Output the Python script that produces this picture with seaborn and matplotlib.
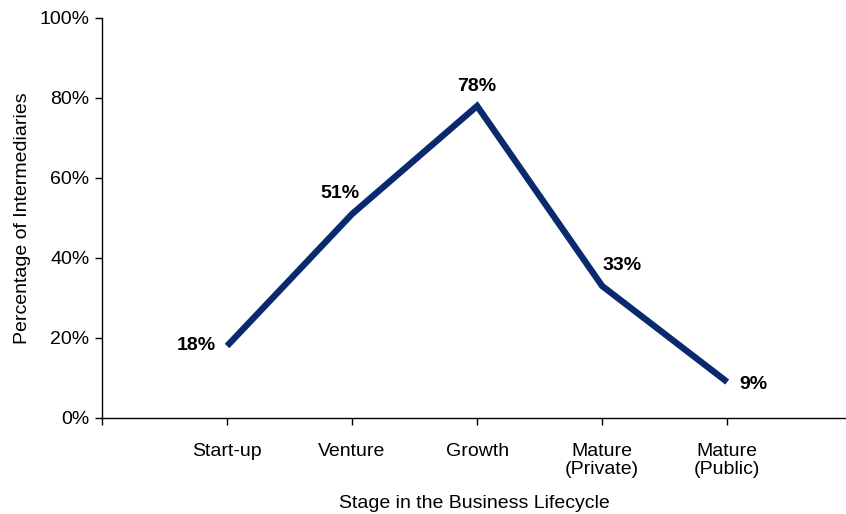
import matplotlib
matplotlib.use("Agg")
import matplotlib.pyplot as plt
import seaborn as sns
import pandas as pd

stages = ["Start-up", "Venture", "Growth", "Mature\n(Private)", "Mature\n(Public)"]
values = [18, 51, 78, 33, 9]
label_offsets = [(-22, 0), (-9, 15), (0, 14), (14, 15), (19, -2)]
yticks = [0, 20, 40, 60, 80, 100]

sns.set_theme(style="white")
plt.rcParams["font.family"] = ["Liberation Sans", "DejaVu Sans"]
plt.rcParams["text.color"] = "black"
plt.rcParams["axes.labelcolor"] = "black"

fig = plt.figure(figsize=(8.46, 5.14), dpi=100)
ax = fig.add_axes([102 / 846, 96 / 514, 744 / 846, 400 / 514])

df = pd.DataFrame({"stage": stages, "value": values})
df["pos"] = range(len(stages))
sns.lineplot(data=df, x="pos", y="value", ax=ax, color="#0a2a6e", linewidth=4.6,
             solid_joinstyle="miter", solid_capstyle="butt", sort=False)

for i, (v, off) in enumerate(zip(values, label_offsets)):
    ax.annotate(f"{v}%", (i, v), xytext=off, textcoords="offset points",
                ha="center", va="center", fontsize=14, fontweight="bold", color="black")

ax.set_xlim(-1, 4.95)
ax.set_ylim(0, 100)
ax.set_yticks(yticks)
ax.set_yticklabels([f"{t}%" for t in yticks], fontsize=14)
ax.set_xticks([-1] + list(range(len(stages))))
ax.set_xticklabels([""] + stages, fontsize=14)
for lbl in ax.get_xticklabels():
    lbl.set_linespacing(1.1)

ax.set_xlabel("Stage in the Business Lifecycle", fontsize=14, labelpad=12)
ax.set_ylabel("Percentage of Intermediaries", fontsize=14, labelpad=6)

for s in ["top", "right"]:
    ax.spines[s].set_visible(False)
for s in ["left", "bottom"]:
    ax.spines[s].set_color("black")
    ax.spines[s].set_linewidth(1.0)
ax.tick_params(axis="both", which="major", direction="out", length=5, width=1,
               color="black", left=True, bottom=True, labelcolor="black")
ax.tick_params(axis="x", pad=13)
ax.tick_params(axis="y", pad=4)
ax.grid(False)

fig.savefig("out.png", dpi=100)
